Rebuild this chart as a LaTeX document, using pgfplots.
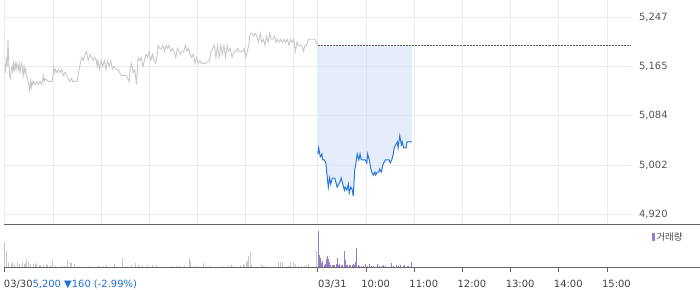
\documentclass[border=0pt]{standalone}
\usepackage{pgfplots}
\pgfplotsset{compat=1.18}
\usepackage{pgfplotstable}
\usepackage{fontspec}
\setmainfont{DejaVu Sans}
\newfontfamily\cjk{Noto Sans CJK KR}
\definecolor{gridgray}{RGB}{235,235,235}
\definecolor{linegray}{RGB}{200,200,204}
\definecolor{priceblue}{RGB}{40,118,220}
\definecolor{fillblue}{RGB}{204,220,245}
\definecolor{volgray}{RGB}{200,200,200}
\definecolor{volpurple}{RGB}{148,128,200}
\definecolor{axisdark}{RGB}{100,100,100}
\definecolor{labelgray}{RGB}{85,85,85}
\definecolor{textblue}{RGB}{30,110,220}

\pgfplotstableread{
t p
0 5170
1 5155
2 5180
3 5165
4 5210
5 5170
6 5150
7 5145
8 5160
9 5165
10 5155
11 5170
12 5160
13 5170
14 5160
15 5170
16 5165
17 5160
18 5170
19 5155
20 5165
21 5170
22 5160
23 5150
24 5165
25 5155
26 5160
27 5150
28 5145
29 5140
30 5135
31 5125
32 5140
33 5130
34 5140
35 5135
36 5140
38 5135
40 5140
42 5135
44 5140
46 5135
48 5150
49 5140
50 5145
55 5140
59 5140
60 5150
61 5165
62 5155
63 5160
65 5155
67 5160
69 5155
71 5160
73 5150
75 5155
77 5150
79 5145
81 5140
83 5145
85 5140
90 5140
92 5155
94 5170
96 5180
98 5175
100 5185
102 5190
103 5180
104 5175
106 5185
108 5180
110 5175
112 5180
114 5175
115 5165
116 5175
118 5160
120 5175
122 5165
124 5175
126 5160
128 5175
130 5165
132 5175
134 5160
136 5165
139 5160
141 5160
143 5155
145 5150
147 5150
149 5150
151 5150
153 5145
155 5140
156 5160
158 5170
160 5155
162 5160
164 5135
165 5155
166 5180
168 5175
170 5180
172 5165
174 5175
176 5185
178 5180
180 5190
182 5175
184 5185
186 5175
188 5170
190 5185
191 5200
193 5195
195 5195
197 5200
199 5190
201 5200
203 5195
205 5200
207 5190
209 5195
211 5190
213 5180
215 5195
217 5190
219 5185
221 5190
223 5190
225 5200
227 5190
229 5195
231 5185
233 5180
235 5185
237 5170
239 5180
241 5170
243 5175
245 5170
250 5170
255 5175
257 5190
259 5195
261 5200
263 5180
265 5200
267 5180
269 5200
271 5185
273 5200
275 5180
277 5200
279 5190
281 5195
283 5180
286 5190
288 5190
290 5195
292 5190
294 5190
296 5190
298 5195
300 5180
302 5190
304 5200
305 5215
306 5220
308 5220
310 5215
312 5220
314 5215
316 5205
318 5220
320 5205
322 5210
324 5200
326 5215
328 5205
330 5220
332 5210
334 5210
336 5215
338 5205
340 5210
342 5205
344 5210
346 5205
348 5210
350 5205
352 5210
354 5200
356 5210
358 5205
360 5210
362 5190
364 5205
366 5200
368 5200
370 5200
372 5190
374 5200
376 5200
378 5210
382 5210
386 5210
388 5205
390 5200
}\dayA

\pgfplotstableread{
t p
390 5020
391 5030
393 5015
395 5020
396 5010
398 5010
400 5005
401 4990
403 4965
404.5 4980
406 4970
408 4980
409.5 4980
411 4980
413 4970
414 4965
416 4970
418 4975
419 4980
421 4970
423 4960
424 4965
426 4960
428 4970
429 4955
431 4965
433 4960
434 4950
436 4995
437.5 5005
438 5010
439 5020
441 5010
442.5 5020
444 5010
446 5010
447 5010
449 5010
451 5005
452 5020
454 5010
456 4995
457 4990
459 4985
461 4990
462 4985
464 4990
466 4990
467 4995
469 4990
470.5 5000
472 5005
474 5010
475.5 5010
477 5010
479 5010
480 5005
482 5010
484 5020
485 5030
487 5035
489 5040
490 5030
492 5050
494 5035
495 5040
497 5030
499 5030
500 5030
501 5040
504 5040
507 5040
}\dayB

% fill region between the previous close (5,200) and the price
\pgfplotstableread{
t p
390 5200
390 5020
391 5030
393 5015
395 5020
396 5010
398 5010
400 5005
401 4990
403 4965
404.5 4980
406 4970
408 4980
409.5 4980
411 4980
413 4970
414 4965
416 4970
418 4975
419 4980
421 4970
423 4960
424 4965
426 4960
428 4970
429 4955
431 4965
433 4960
434 4950
436 4995
437.5 5005
438 5010
439 5020
441 5010
442.5 5020
444 5010
446 5010
447 5010
449 5010
451 5005
452 5020
454 5010
456 4995
457 4990
459 4985
461 4990
462 4985
464 4990
466 4990
467 4995
469 4990
470.5 5000
472 5005
474 5010
475.5 5010
477 5010
479 5010
480 5005
482 5010
484 5020
485 5030
487 5035
489 5040
490 5030
492 5050
494 5035
495 5040
497 5030
499 5030
500 5030
501 5040
504 5040
507 5040
507 5200
}\dayBfill

\pgfplotstableread{
t v
0 25
2 16
4.5 4
8 3.3
10 5.3
12 2.3
16 4
18.6 3
21.5 4.7
24 2.7
25.6 3.7
27.6 8
29.7 4.7
31.8 3.3
35.9 3
38 4
40 2.7
43.3 2
45 2.3
48.3 1.7
51.6 3
53.6 2.3
56.5 2
59.8 6.7
62.7 1.3
71 1.3
75 1.3
78.4 6.7
81.3 5
83.4 4.3
86.7 2.7
91.6 1.3
105 1.3
115 1.3
118.5 1.3
122.6 1.3
126.7 2
137 3
146.5 9
152 1.3
157.6 2.3
163 4
166 2
172 1.3
178 1.7
184.5 1.7
189 1.7
209 1.3
214 1.3
217.5 1.3
223.7 1.3
230 8.7
231.5 5.7
237 1.3
241 1.3
247.6 4.3
251.7 1.3
256.7 1.3
271 1.3
279 1.3
282 2.3
284.8 1.3
293.8 2.3
297 3.3
298.8 2.3
300.5 5
302 5.7
303.7 11.3
305.8 15.3
307.4 2.3
319.8 2.3
321.9 1.3
324.8 1.3
341.3 5.3
343.4 4.7
345.4 4.7
350.8 1.3
352.8 1.3
355.7 4.7
359.9 5.3
361.5 3
366 1.3
370.2 1.3
373 1.3
375.5 2.3
378.5 3
388.8 15.7
}\volA

\pgfplotstableread{
t v
390.4 36.3
391.6 12.3
392.9 9
394.5 4
396.2 5.7
397.8 2.3
399.5 3
400.7 8
402 10.7
403.2 7.7
404.5 5
406 1.7
407.7 2.3
409.4 2.3
411 1.7
412.7 2.7
414 9.3
415.6 1.7
417.2 3
418.9 1.7
421 2.3
422.6 16.3
424.3 7.3
425.9 1.7
427.5 2.3
429.2 2.3
430.9 2.3
432.5 1.7
434.2 3
435.8 2.3
437.4 5.3
438.7 19.3
440.4 2.3
442.4 1
444.5 1
446.5 1
449.4 3
452.3 1
454.8 3
456.9 1
458.9 1
463.9 3
467.2 1
470.5 1
472.1 2.3
473.8 1
482 4.3
484.5 1
487.8 2
490.3 1
492.8 2.3
496.1 1
498.1 2
501.1 1
503 1
506 5.3
}\volB

\begin{document}
\begin{tikzpicture}
\path (0pt,0pt) rectangle (700pt,289pt);
% main price pane
\begin{axis}[
  at={(1pt,63.3pt)}, anchor=south west,
  scale only axis, width=630pt, height=225.7pt,
  xmin=0, xmax=780, ymin=4902.6, ymax=5274.5,
  axis line style={draw=none},
  xtick={0,60,120,180,240,300,360,390,450,510,570,630,690,750},
  xticklabels={},
  ytick={4920,5001.75,5083.5,5165.25,5247},
  yticklabels={{4,920},{5,002},{5,084},{5,165},{5,247}},
  yticklabel pos=right,
  yticklabel style={anchor=west, inner sep=0pt, xshift=8pt, font=\fontsize{10}{12}\selectfont, text=labelgray},
  grid=major, grid style={gridgray, line width=0.8pt},
  major tick length=0pt,
  clip=true,
]
\addplot[linegray, line width=0.9pt, sharp plot] table[x=t,y=p] {\dayA};
\addplot[fill=fillblue, fill opacity=0.5, draw=none] table[x=t,y=p] {\dayBfill} -- cycle;
\addplot[black!65, line width=0.5pt, dash pattern=on 0.5pt off 1pt] coordinates {(390,5200) (780,5200)};
\addplot[priceblue, line width=1pt, sharp plot] table[x=t,y=p] {\dayB};
\end{axis}
% volume pane
\begin{axis}[
  at={(1pt,20.7pt)}, anchor=south west,
  scale only axis, width=630pt, height=42.6pt,
  xmin=0, xmax=780, ymin=0, ymax=42.6,
  axis line style={draw=none},
  ytick=\empty,
  xtick={0,390,450,510,570,630,690,750},
  xticklabels={{\hspace*{4pt}03/30\textcolor{textblue}{5,200 ▼160 (-2.99\%)}},{\hspace*{5pt}03/31},10:00,11:00,12:00,13:00,14:00,15:00},
  xtick pos=bottom,
  tick align=outside,
  major tick length=5pt,
  xtick style={axisdark, line width=0.8pt},
  xticklabel style={anchor=north west, inner sep=0pt, xshift=-5pt, yshift=-8pt, font=\fontsize{10}{12}\selectfont, text=black!75},
  clip=false,
]
\addplot[ycomb, volgray, line width=1pt, mark=none] table[x=t,y=v] {\volA};
\addplot[ycomb, volpurple, line width=1pt, mark=none] table[x=t,y=v] {\volB};
\draw[axisdark, line width=0.9pt] (rel axis cs:-0.0016,0) -- (rel axis cs:1.1095,0);
\draw[axisdark, line width=0.9pt] (rel axis cs:-0.0016,1) -- (rel axis cs:1.1095,1);
\end{axis}
\node[anchor=west, inner sep=0pt] at (652pt,51pt) {\textcolor{volpurple}{\rule{3pt}{8pt}}\hspace{1.5pt}{\cjk\fontsize{9.5}{11}\selectfont\textcolor{black!70}{거래량}}};
\end{tikzpicture}
\end{document}
